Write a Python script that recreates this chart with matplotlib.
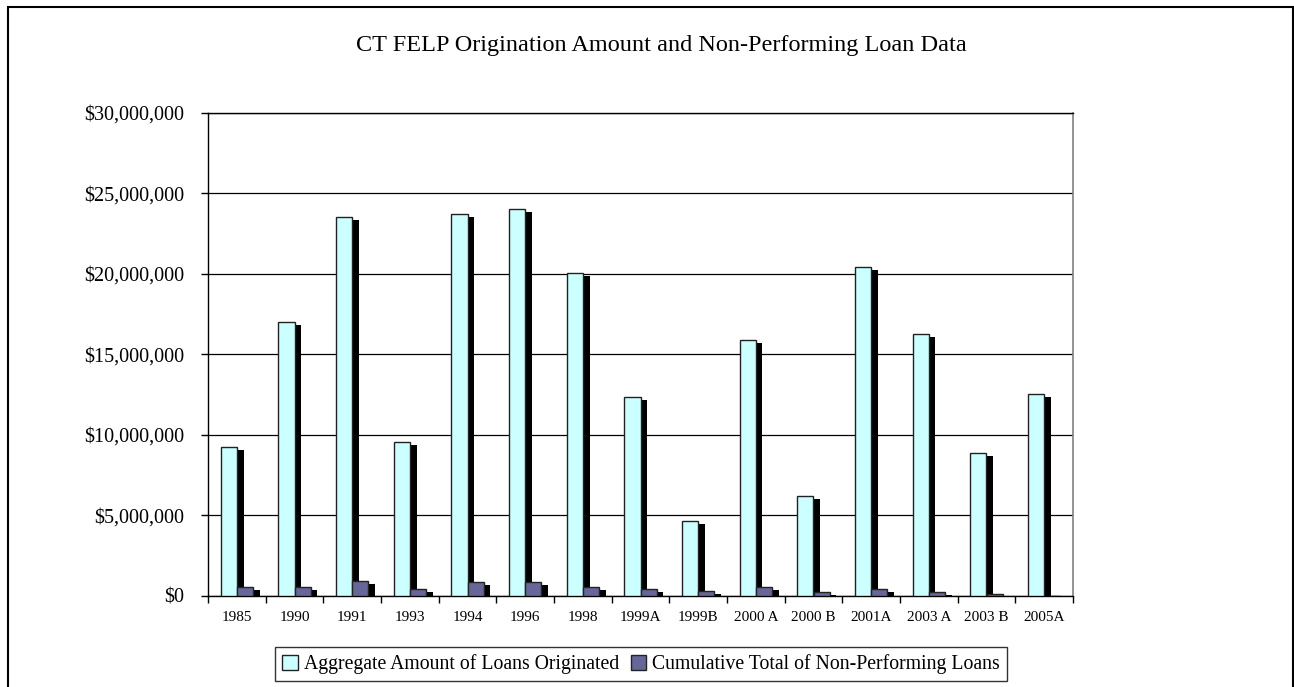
import matplotlib
matplotlib.use("Agg")
import matplotlib.pyplot as plt
import matplotlib.patheffects as pe
from matplotlib.ticker import FuncFormatter, MultipleLocator
import numpy as np

categories = ["1985", "1990", "1991", "1993", "1994", "1996", "1998", "1999A",
              "1999B", "2000 A", "2000 B", "2001A", "2003 A", "2003 B", "2005A"]
aggregate = [9210000, 17000000, 23560000, 9520000, 23700000, 24060000, 20060000,
             12370000, 4620000, 15860000, 6180000, 20450000, 16250000, 8840000, 12550000]
nonperforming = [510000, 510000, 900000, 400000, 820000, 820000, 510000,
                 400000, 300000, 510000, 220000, 400000, 240000, 80000, 0]

title = "CT FELP Origination Amount and Non-Performing Loan Data"
series_names = ["Aggregate Amount of Loans Originated",
                "Cumulative Total of Non-Performing Loans"]

serif = ["Liberation Serif", "DejaVu Serif"]

fig = plt.figure(figsize=(12.94, 6.87), dpi=100)
W, H = 1294, 687
ax = fig.add_axes([208 / W, 1 - 595.5 / H, (1073 - 208) / W, (595.5 - 113) / H])

x = np.arange(len(categories))
bw = 0.28
shadow = [pe.SimplePatchShadow(offset=(4.8, -2.2), shadow_rgbFace="black", alpha=1.0),
          pe.Normal()]
ax.bar(x - bw / 2, aggregate, width=bw, color="#CCFFFF", edgecolor="#222222",
       linewidth=1.0, label=series_names[0], path_effects=shadow, zorder=3)
ax.bar(x + bw / 2, nonperforming, width=bw, color="#666699", edgecolor="#222222",
       linewidth=1.0, label=series_names[1], path_effects=shadow, zorder=3)

ax.set_xlim(-0.5, len(categories) - 0.5)
ax.set_ylim(0, 30000000)
ax.yaxis.set_major_locator(MultipleLocator(5000000))
ax.yaxis.set_major_formatter(FuncFormatter(lambda v, p: "${:,.0f}".format(v)))
ax.grid(axis="y", color="black", linewidth=0.9, zorder=0)
ax.set_axisbelow(True)

ax.set_xticks(x)
ax.set_xticklabels(categories, fontsize=11, family=serif)
ax.set_xticks(np.arange(len(categories) + 1) - 0.5, minor=True)
ax.tick_params(axis="x", which="major", length=0, pad=11)
ax.tick_params(axis="x", which="minor", length=5, width=1, direction="out")
ax.tick_params(axis="y", length=5, width=1, direction="out", pad=12)
for lab in ax.get_yticklabels():
    lab.set_family(serif)
    lab.set_fontsize(14.5)

for s in ["left", "bottom", "top"]:
    ax.spines[s].set_color("black")
    ax.spines[s].set_linewidth(1.0)
ax.spines["right"].set_color("#808080")
ax.spines["right"].set_linewidth(1.2)

fig.text(661 / W, 1 - 45 / H, title, ha="center", va="center",
         fontsize=17.5, family=serif)

leg = fig.legend(loc="center", bbox_to_anchor=(641 / W, 1 - 664 / H), ncol=2,
                 frameon=True, fancybox=False, edgecolor="black",
                 prop={"family": serif, "size": 14.2},
                 handlelength=0.8, handleheight=0.8, handletextpad=0.3,
                 columnspacing=0.6, borderpad=0.35)
leg.get_frame().set_linewidth(1.0)
for h in leg.legend_handles:
    h.set_path_effects([])

border = plt.Rectangle((8 / W, -0.1), (1293 - 8) / W, 1 - 7 / H + 0.1,
                       transform=fig.transFigure, fill=False, edgecolor="black",
                       linewidth=1.5)
fig.patches.append(border)

fig.savefig("out.png", dpi=100)
